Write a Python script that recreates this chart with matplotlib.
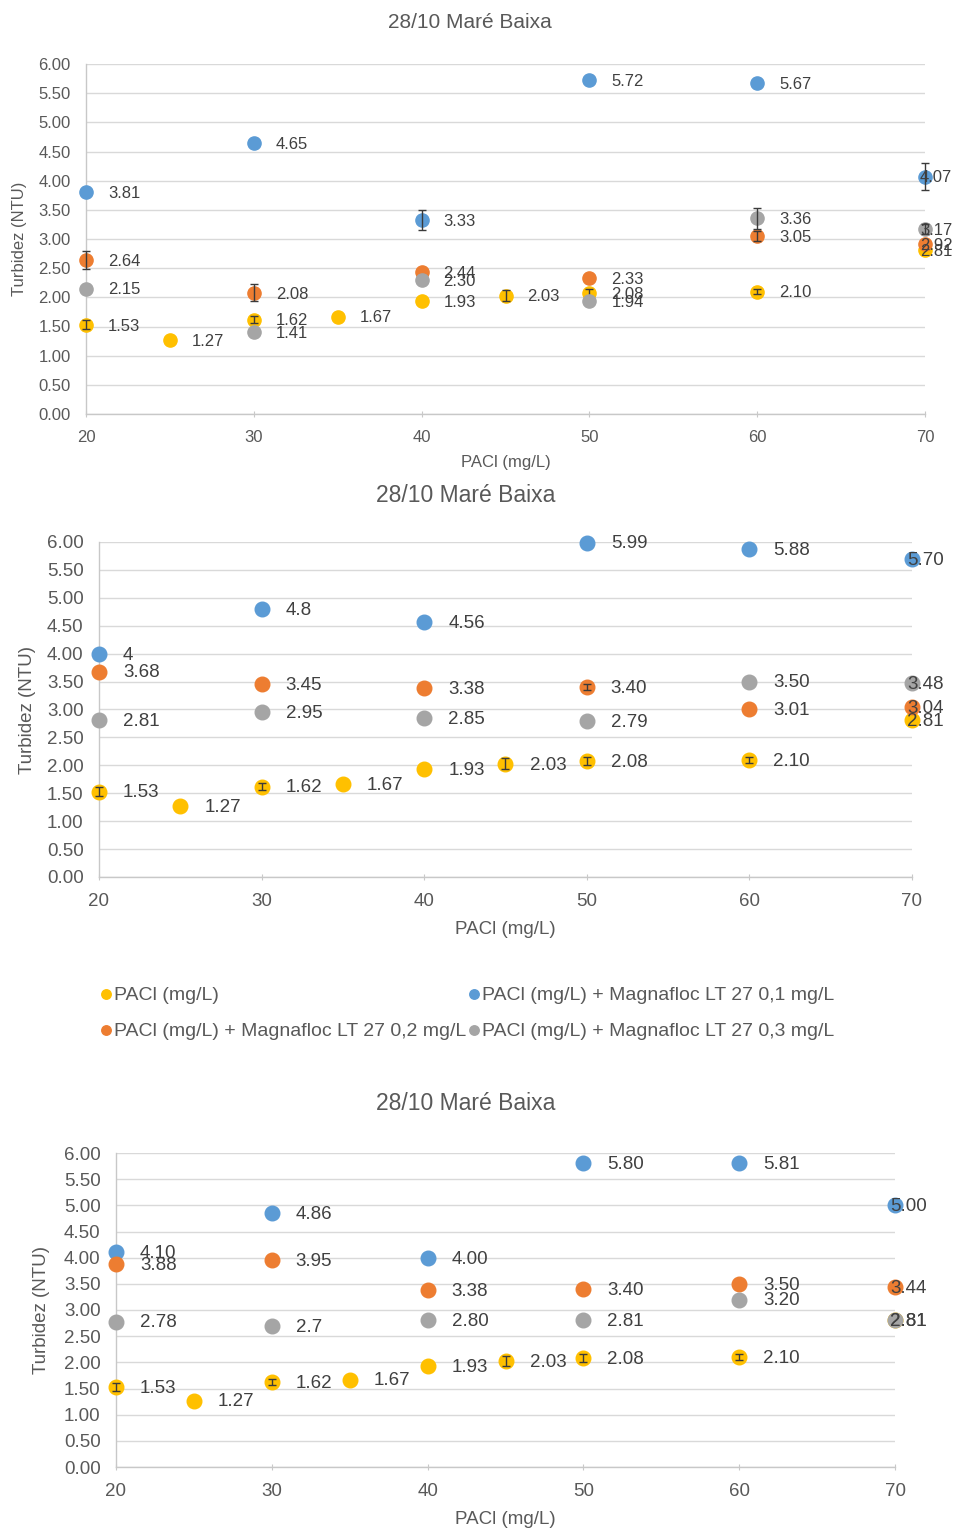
import matplotlib
matplotlib.use("Agg")
import matplotlib.pyplot as plt

plt.rcParams['font.family'] = ['Liberation Sans', 'DejaVu Sans']

W, H = 958, 1530

# x values
pacl_x = [20, 25, 30, 35, 40, 45, 50, 60, 70]
dose_x = [20, 30, 40, 50, 60, 70]

# series names (legend)
names = ["PACl (mg/L)",
         "PACl (mg/L) + Magnafloc LT 27 0,1 mg/L",
         "PACl (mg/L) + Magnafloc LT 27 0,2 mg/L",
         "PACl (mg/L) + Magnafloc LT 27 0,3 mg/L"]
colors = ["#FFC000", "#5B9BD5", "#ED7D31", "#A5A5A5"]

# values as printed on the labels
pacl_vals = ["1.53", "1.27", "1.62", "1.67", "1.93", "2.03", "2.08", "2.10", "2.81"]
pacl_err = [0.08, 0, 0.06, 0, 0, 0.1, 0.07, 0.05, 0]

# chart 1
c1_blue = ["3.81", "4.65", "3.33", "5.72", "5.67", "4.07"]
c1_orange = ["2.64", "2.08", "2.44", "2.33", "3.05", "2.92"]
c1_gray = ["2.15", "1.41", "2.30", "1.94", "3.36", "3.17"]
c1_blue_err = [0, 0, 0.17, 0, 0, 0.23]
c1_orange_err = [0.15, 0.15, 0, 0, 0.08, 0]
c1_gray_err = [0, 0, 0, 0, 0.18, 0.08]

# chart 2
c2_blue = ["4", "4.8", "4.56", "5.99", "5.88", "5.70"]
c2_orange = ["3.68", "3.45", "3.38", "3.40", "3.01", "3.04"]
c2_gray = ["2.81", "2.95", "2.85", "2.79", "3.50", "3.48"]
c2_blue_err = [0, 0, 0, 0, 0, 0]
c2_orange_err = [0, 0, 0, 0.05, 0, 0]
c2_gray_err = [0, 0, 0, 0, 0, 0]

# chart 3
c3_blue = ["4.10", "4.86", "4.00", "5.80", "5.81", "5.00"]
c3_orange = ["3.88", "3.95", "3.38", "3.40", "3.50", "3.44"]
c3_gray = ["2.78", "2.7", "2.80", "2.81", "3.20", "2.81"]
c3_blue_err = [0, 0, 0, 0, 0, 0]
c3_orange_err = [0, 0, 0, 0, 0, 0]
c3_gray_err = [0, 0, 0, 0, 0, 0]

yticks = [0, 0.5, 1, 1.5, 2, 2.5, 3, 3.5, 4, 4.5, 5, 5.5, 6]
xticks = [20, 30, 40, 50, 60, 70]

TXT = "#595959"
LBL = "#404040"


def draw_chart(box, series, fs, title_fs, title_pos, ylab_x, xlab_y, ms, label_dx):
    left, top, right, bottom = box
    ax = fig.add_axes([left / W, 1 - bottom / H, (right - left) / W, (bottom - top) / H])
    handles = []
    z = 3
    for (xs, vals, err), color, name in zip(series, colors, names):
        ys = [float(v) for v in vals]
        h, = ax.plot(xs, ys, 'o', color=color, ms=ms, zorder=z, clip_on=False, label=name)
        handles.append(h)
        # only points that have an error bar
        ex = [x for x, e in zip(xs, err) if e > 0]
        ey = [y for y, e in zip(ys, err) if e > 0]
        ee = [e for e in err if e > 0]
        if ee:
            ax.errorbar(ex, ey, yerr=ee, fmt='none', ecolor='#3a3a3a', elinewidth=1,
                        capsize=3, capthick=1, zorder=z + 1, clip_on=False)
        z += 2
    for (xs, vals, err), color in zip(series, colors):
        for x, v in zip(xs, vals):
            dx = label_dx if x < 70 else -3.6
            ax.annotate(v, (x, float(v)), xytext=(dx, -1), textcoords='offset points',
                        ha='left', va='center', fontsize=fs, color=LBL, zorder=20,
                        annotation_clip=False)
    ax.set_xlim(20, 70)
    ax.set_ylim(0, 6)
    ax.set_xticks(xticks)
    ax.set_yticks(yticks)
    ax.yaxis.set_major_formatter('{x:.2f}')
    ax.grid(axis='y', color='#D9D9D9', lw=1)
    ax.set_axisbelow(True)
    for s in ['top', 'right']:
        ax.spines[s].set_visible(False)
    for s in ['left', 'bottom']:
        ax.spines[s].set_color('#C8C8C8')
        ax.spines[s].set_linewidth(1)
    ax.tick_params(axis='y', length=0, pad=11, labelcolor=TXT, labelsize=fs)
    ax.tick_params(axis='x', direction='inout', length=5, color='#C8C8C8', pad=9,
                   labelcolor=TXT, labelsize=fs)
    fig.text(title_pos[0] / W, 1 - title_pos[1] / H, "28/10 Maré Baixa",
             ha='center', va='center', fontsize=title_fs, color=TXT)
    fig.text((left + right) / 2 / W, 1 - xlab_y / H, "PACl (mg/L)",
             ha='center', va='center', fontsize=fs, color=TXT)
    fig.text(ylab_x / W, 1 - (top + bottom) / 2 / H, "Turbidez (NTU)", rotation=90,
             ha='center', va='center', fontsize=fs, color=TXT)
    return handles


fig = plt.figure(figsize=(W / 100, H / 100), dpi=100)

draw_chart((86, 64, 925, 414),
           [(pacl_x, pacl_vals, pacl_err), (dose_x, c1_blue, c1_blue_err),
            (dose_x, c1_orange, c1_orange_err), (dose_x, c1_gray, c1_gray_err)],
           12, 15, (470, 22), 20, 462, 9.5, 15.8)

handles = draw_chart((99, 542, 912, 877),
                     [(pacl_x, pacl_vals, pacl_err), (dose_x, c2_blue, c2_blue_err),
                      (dose_x, c2_orange, c2_orange_err), (dose_x, c2_gray, c2_gray_err)],
                     13.5, 16.5, (466, 495), 27, 930, 10.5, 17.3)

draw_chart((116, 1153, 895, 1467),
           [(pacl_x, pacl_vals, pacl_err), (dose_x, c3_blue, c3_blue_err),
            (dose_x, c3_orange, c3_orange_err), (dose_x, c3_gray, c3_gray_err)],
           13.5, 16.5, (466, 1104), 42, 1519, 10.5, 17.3)

# legend: column 1 yellow/orange, column 2 blue/gray
order = [0, 2, 1, 3]
leg = fig.legend([handles[i] for i in order], [names[i] for i in order],
                 ncol=2, loc='upper left', bbox_to_anchor=(91 / W, 1 - 977 / H),
                 frameon=False, fontsize=14, handlelength=0.55, handletextpad=0.12,
                 columnspacing=0.15, labelspacing=0.95, markerscale=0.65,
                 labelcolor=TXT, borderpad=0)

fig.savefig("out.png", dpi=100)
